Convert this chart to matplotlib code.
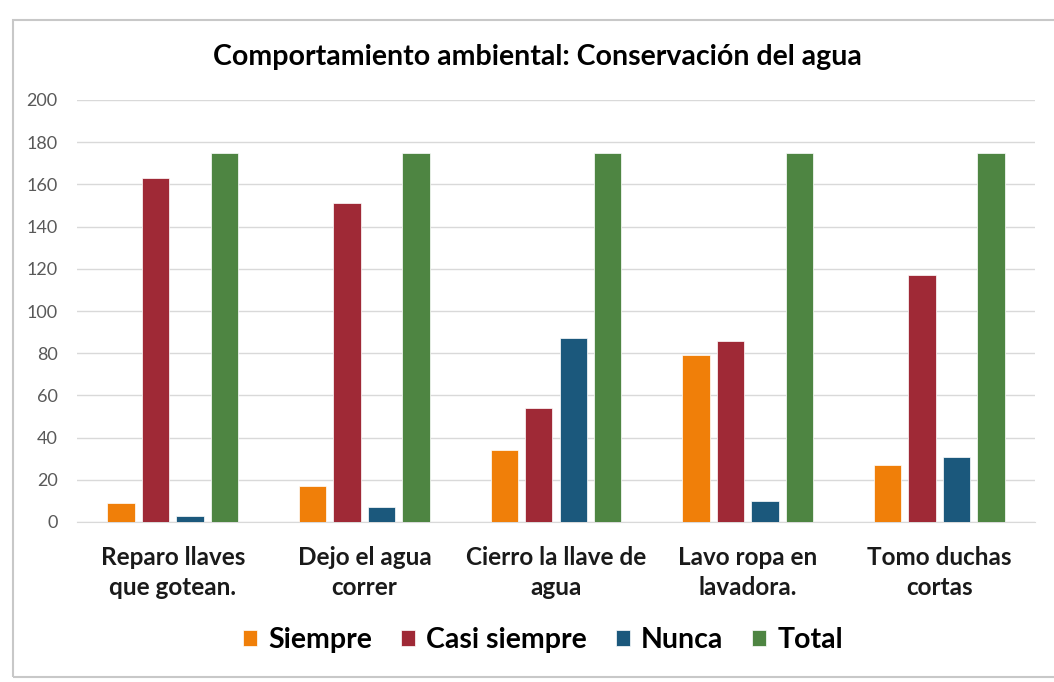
import numpy as np
import matplotlib
matplotlib.use('Agg')
import matplotlib.pyplot as plt
from matplotlib.patches import Rectangle

categories = ['Reparo llaves\nque gotean.', 'Dejo el agua\ncorrer', 'Cierro la llave de\nagua',
              'Lavo ropa en\nlavadora.', 'Tomo duchas\ncortas']
series_names = ['Siempre', 'Casi siempre', 'Nunca', 'Total']
siempre = [9, 17, 34, 79, 27]
casi_siempre = [163, 151, 54, 86, 117]
nunca = [3, 7, 87, 10, 31]
total = [175, 175, 175, 175, 175]
colors = ['#f07f09', '#9f2936', '#1b587c', '#4e8542']

plt.rcParams['font.family'] = ['Lato', 'DejaVu Sans']

fig = plt.figure(figsize=(10.54, 6.82), dpi=100)
fig.patch.set_facecolor('white')

# chart frame
fig.add_artist(Rectangle((13 / 1054, 5 / 682), 1.2, 1 - 25 / 682, transform=fig.transFigure,
                         fill=False, edgecolor='#c8c8c8', lw=1.5))

ax = fig.add_axes([77 / 1054, 1 - 522 / 682, 958 / 1054, 422 / 682])
x = np.arange(len(categories))
step = 0.18
width = 0.143
for i, (vals, name) in enumerate(zip([siempre, casi_siempre, nunca, total], series_names)):
    ax.bar(x + (i - 1.5) * step, vals, width, color=colors[i], label=name,
           edgecolor='white', linewidth=0.5, zorder=3)

ax.set_xlim(-0.5, len(categories) - 0.5)
ax.set_ylim(0, 200)
ax.set_yticks(range(0, 201, 20))
ax.grid(axis='y', color='#d9d9d9', lw=1, zorder=0)
for s in ['top', 'right', 'left']:
    ax.spines[s].set_visible(False)
ax.spines['bottom'].set_color('#d9d9d9')
ax.tick_params(axis='y', length=0, labelsize=13, labelcolor='#595959', pad=14)
ax.tick_params(axis='x', length=0, pad=17)
ax.set_xticks(x)
ax.set_xticklabels(categories, fontsize=17.5, fontweight='bold', color='#1a1a1a', linespacing=1.4)

fig.text(537 / 1054, 1 - 57 / 682, 'Comportamiento ambiental: Conservación del agua',
         ha='center', va='center', fontsize=20.5, fontweight='bold', color='black')

leg = fig.legend(loc='center', bbox_to_anchor=(543 / 1054, 1 - 640 / 682), ncol=4, frameon=False,
                 prop={'size': 20.5, 'weight': 'bold'}, handlelength=0.5, handleheight=0.5,
                 handletextpad=0.4, columnspacing=1.0)

fig.savefig('out.png', dpi=100)
